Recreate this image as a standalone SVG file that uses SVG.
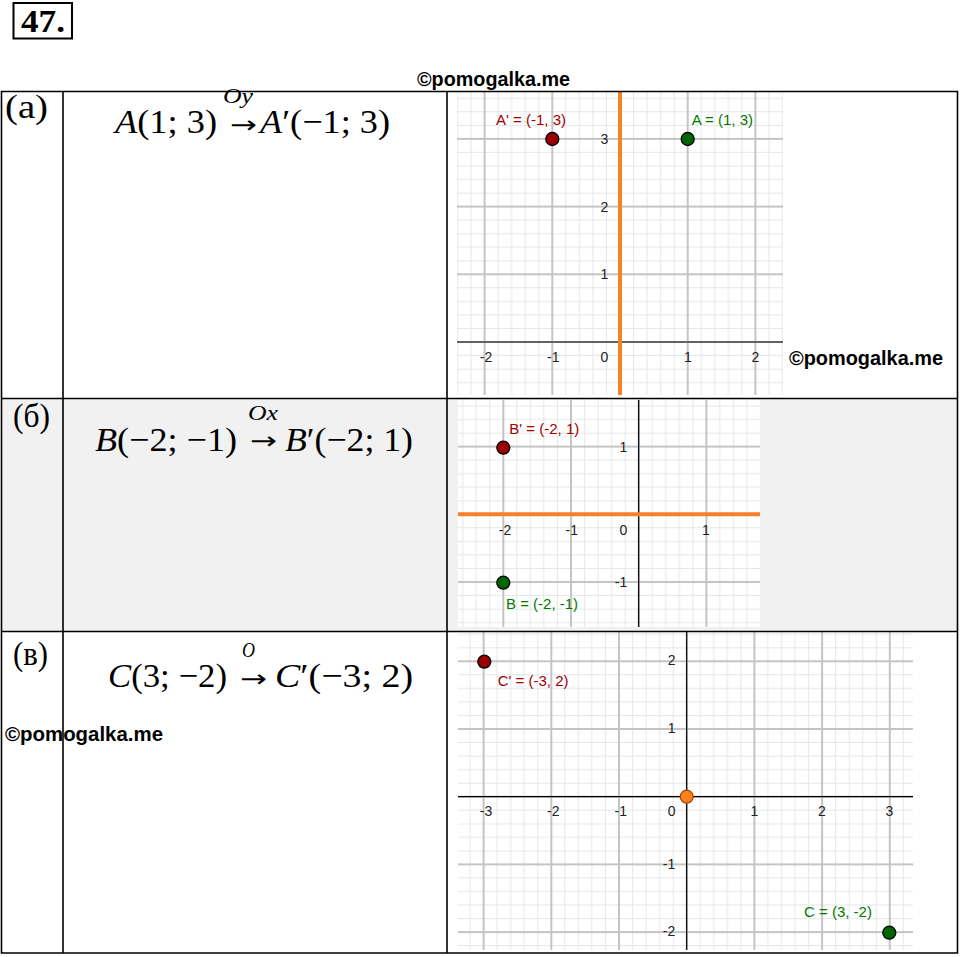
<svg xmlns="http://www.w3.org/2000/svg" xmlns:xlink="http://www.w3.org/1999/xlink" width="960" height="957" viewBox="0 0 960 957">
<style>
.tbl{stroke:#000;stroke-width:1.6;fill:none}
.lbl{font-family:"Liberation Serif","Times New Roman",serif;font-size:33px;fill:#000}
.math{font-family:"Liberation Serif","Times New Roman",serif;font-size:34px;fill:#000}
.arr{font-family:"DejaVu Sans",sans-serif;font-size:24px;fill:#000}
.over{font-family:"Liberation Serif","Times New Roman",serif;font-size:20px;font-style:italic;fill:#000}
.it{font-style:italic}
.wm{font-family:"Liberation Sans",Arial,sans-serif;font-weight:bold;font-size:19.5px;fill:#000}
.tick{font-family:"Liberation Sans",Arial,sans-serif;font-size:14px;fill:#222;text-anchor:middle}
.axis{stroke:#000;stroke-width:1.2;fill:none}
.mirror{stroke:#f7802a;stroke-width:4;fill:none}
.ptr{fill:#990000;stroke:#000;stroke-width:1.3}
.ptg{fill:#006400;stroke:#000;stroke-width:1.3}
.pto{fill:#ff7f1e;stroke:#a84400;stroke-width:1.3}
.tr{font-family:"Liberation Sans",Arial,sans-serif;font-size:15px;fill:#a00000}
.tg{font-family:"Liberation Sans",Arial,sans-serif;font-size:15px;fill:#007a00}
</style>
<defs>
<g id="tile">
<path d="M13.54 0V67.7M27.08 0V67.7M40.62 0V67.7M54.16 0V67.7M0 13.54H67.7M0 27.08H67.7M0 40.62H67.7M0 54.16H67.7" stroke="#e6e6e6" stroke-width="1" fill="none"/>
<path d="M0 0V67.7M67.7 0V67.7M0 0H67.7M0 67.7H67.7" stroke="#c4c4c4" stroke-width="2" fill="none"/>
</g>
<pattern id="gA" patternUnits="userSpaceOnUse" x="620" y="342" width="67.7" height="67.7"><use href="#tile"/></pattern>
<pattern id="gB" patternUnits="userSpaceOnUse" x="638.7" y="514.3" width="67.7" height="67.7"><use href="#tile"/></pattern>
<pattern id="gC" patternUnits="userSpaceOnUse" x="686.7" y="796.7" width="67.7" height="67.7"><use href="#tile"/></pattern>
</defs>

<rect width="960" height="957" fill="#fff"/>

<g id="header">
<rect x="13.5" y="3" width="58.5" height="35.5" fill="none" stroke="#000" stroke-width="2"/>
<text x="21" y="32" font-family="Liberation Serif, Times New Roman, serif" font-weight="bold" font-size="32" textLength="44" lengthAdjust="spacingAndGlyphs">47.</text>
</g>

<g id="row-b-bg">
<rect x="1.5" y="398.5" width="956" height="233" fill="#f1f1f1"/>
</g>

<g id="graph-a">
<rect x="457" y="92" width="326" height="303" fill="#fff"/>
<rect x="457" y="92" width="326" height="303" fill="url(#gA)"/>
<path class="axis" d="M457 342H783M620 92V395"/>
<path class="mirror" d="M620 92V395"/>
<text class="tick" x="486" y="362">-2</text>
<text class="tick" x="553.3" y="362">-1</text>
<text class="tick" x="604.3" y="362">0</text>
<text class="tick" x="688" y="362">1</text>
<text class="tick" x="755.5" y="362">2</text>
<text class="tick" x="604.3" y="143.5">3</text>
<text class="tick" x="604.3" y="211.5">2</text>
<text class="tick" x="604.3" y="279">1</text>
<circle class="ptr" cx="552.3" cy="139" r="6.5"/>
<circle class="ptg" cx="687.7" cy="139" r="6.5"/>
<text class="tr" x="496" y="125">A' = (-1, 3)</text>
<text class="tg" x="691.7" y="125">A = (1, 3)</text>
</g>

<g id="graph-b">
<rect x="458" y="400" width="302" height="227" fill="#fff"/>
<rect x="458" y="400" width="302" height="227" fill="url(#gB)"/>
<path class="axis" d="M458 514.3H760M638.7 400V627"/>
<path class="mirror" d="M458 514.3H760"/>
<text class="tick" x="505" y="535">-2</text>
<text class="tick" x="571.7" y="535">-1</text>
<text class="tick" x="623.3" y="535">0</text>
<text class="tick" x="706" y="535">1</text>
<text class="tick" x="623.3" y="452">1</text>
<text class="tick" x="621" y="587">-1</text>
<circle class="ptr" cx="503.3" cy="447.7" r="6.5"/>
<circle class="ptg" cx="503.3" cy="582.7" r="6.5"/>
<text class="tr" x="509.3" y="434">B' = (-2, 1)</text>
<text class="tg" x="506" y="609">B = (-2, -1)</text>
</g>

<g id="graph-c">
<rect x="458" y="632" width="455" height="318" fill="#fff"/>
<rect x="458" y="632" width="455" height="318" fill="url(#gC)"/>
<path class="axis" d="M458 796.7H913M686.7 632V950"/>
<text class="tick" x="486" y="815.5">-3</text>
<text class="tick" x="553.3" y="815.5">-2</text>
<text class="tick" x="620.7" y="815.5">-1</text>
<text class="tick" x="671.7" y="815.5">0</text>
<text class="tick" x="754.3" y="815.5">1</text>
<text class="tick" x="822" y="815.5">2</text>
<text class="tick" x="889.3" y="815.5">3</text>
<text class="tick" x="671.7" y="665">2</text>
<text class="tick" x="671.7" y="733">1</text>
<text class="tick" x="669" y="868.5">-1</text>
<text class="tick" x="669" y="936">-2</text>
<circle class="ptr" cx="484.3" cy="661.7" r="6.5"/>
<circle class="pto" cx="686.7" cy="796.7" r="6.5"/>
<circle class="ptg" cx="889.3" cy="932.7" r="6.5"/>
<text class="tr" x="497.7" y="686">C' = (-3, 2)</text>
<text class="tg" x="804" y="916.5">C = (3, -2)</text>
</g>

<g id="table">
<path class="tbl" d="M1.5 91.5H957.5V953H1.5ZM1.5 398.5H957.5M1.5 631.5H957.5M63 91.5V953M447 91.5V953"/>
</g>

<g id="row-a">
<text class="lbl" x="5" y="118" textLength="43" lengthAdjust="spacingAndGlyphs">(а)</text>
<text class="math" x="115" y="133" textLength="102" lengthAdjust="spacingAndGlyphs"><tspan class="it">A</tspan>(1; 3)</text>
<text class="arr" x="230" y="133" textLength="27" lengthAdjust="spacingAndGlyphs">→</text>
<text class="over" x="223" y="103" textLength="30" lengthAdjust="spacingAndGlyphs">Oy</text>
<text class="math" x="260" y="133" textLength="130" lengthAdjust="spacingAndGlyphs"><tspan class="it">A</tspan>′(−1; 3)</text>
</g>

<g id="row-b">
<text class="lbl" x="13" y="427" textLength="37" lengthAdjust="spacingAndGlyphs">(б)</text>
<text class="math" x="95" y="451" textLength="142" lengthAdjust="spacingAndGlyphs"><tspan class="it">B</tspan>(−2; −1)</text>
<text class="arr" x="250" y="449" textLength="27" lengthAdjust="spacingAndGlyphs">→</text>
<text class="over" x="248" y="420" textLength="30" lengthAdjust="spacingAndGlyphs">Ox</text>
<text class="math" x="285" y="451" textLength="128" lengthAdjust="spacingAndGlyphs"><tspan class="it">B</tspan>′(−2; 1)</text>
</g>

<g id="row-c">
<text class="lbl" x="13" y="665" textLength="35" lengthAdjust="spacingAndGlyphs">(в)</text>
<text class="math" x="108" y="687" textLength="119" lengthAdjust="spacingAndGlyphs"><tspan class="it">C</tspan>(3; −2)</text>
<text class="arr" x="240" y="687" textLength="27" lengthAdjust="spacingAndGlyphs">→</text>
<text class="over" x="242" y="657" textLength="13" lengthAdjust="spacingAndGlyphs">O</text>
<text class="math" x="275" y="687" textLength="138" lengthAdjust="spacingAndGlyphs"><tspan class="it">C</tspan>′(−3; 2)</text>
</g>

<g id="watermarks">
<text class="wm" x="417" y="86" textLength="153" lengthAdjust="spacingAndGlyphs">©pomogalka.me</text>
<text class="wm" x="789" y="365" textLength="154" lengthAdjust="spacingAndGlyphs">©pomogalka.me</text>
<text class="wm" x="5" y="741" textLength="158" lengthAdjust="spacingAndGlyphs">©pomogalka.me</text>
</g>
</svg>
